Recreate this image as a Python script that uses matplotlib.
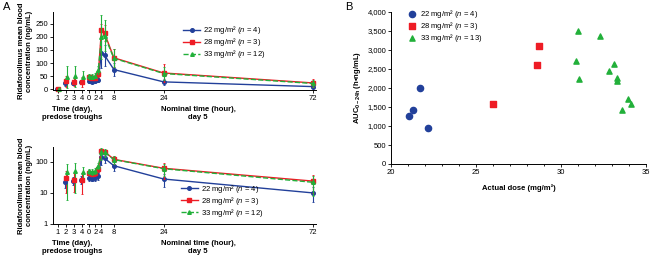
import numpy as np
import matplotlib.pyplot as plt
import matplotlib.ticker as mticker

plt.rcParams['font.family'] = ['Liberation Sans', 'DejaVu Sans']
plt.rcParams['mathtext.fontset'] = 'custom'
plt.rcParams['mathtext.rm'] = 'Liberation Sans'
plt.rcParams['mathtext.it'] = 'Liberation Sans:italic'
plt.rcParams['font.size'] = 5.5

# ---- panel A data ----
days = [1, 2, 3, 4]
hours = [0, 1, 2, 3, 4, 5, 8, 24, 72]

labels_a = ['22 mg/m² ($\\it{n}$ = 4)', '28 mg/m² ($\\it{n}$ = 3)', '33 mg/m² ($\\it{n}$ = 12)']
labels_b = ['22 mg/m² ($\\it{n}$ = 4)', '28 mg/m² ($\\it{n}$ = 3)', '33 mg/m² ($\\it{n}$ = 13)']

day_mean = {
    '22': [0, 22, 25, 27],
    '28': [0, 30, 27, 27],
    '33': [0, 47, 50, 48],
}
day_sd = {
    '22': [0, 8, 7, 8],
    '28': [0, 20, 16, 18],
    '33': [0, 41, 40, 22],
}
hour_mean = {
    '22': [30, 28, 30, 35, 140, 130, 75, 28, 10],
    '28': [45, 42, 44, 60, 226, 214, 120, 62, 24],
    '33': [50, 48, 52, 75, 200, 205, 118, 60, 22],
}
hour_sd = {
    '22': [5, 4, 5, 8, 58, 40, 25, 12, 5],
    '28': [8, 7, 8, 12, 25, 30, 35, 33, 14],
    '33': [10, 9, 10, 15, 85, 60, 35, 25, 14],
}

# ---- panel B data ----
dose_22 = [21.08, 21.31, 21.70, 22.20]
auc_22 = [1260, 1420, 2000, 950]
dose_28 = [26.02, 28.60, 28.72]
auc_28 = [1590, 2600, 3110]
dose_33 = [31.02, 32.29, 30.88, 33.10, 32.80, 31.08, 33.31, 33.31, 33.92, 34.12, 33.60]
auc_33 = [3490, 3360, 2720, 2640, 2450, 2250, 2270, 2190, 1715, 1585, 1410]

blue = '#22409a'
red = '#ee1c25'
green = '#22b03a'
keys = ['22', '28', '33']
colors = [blue, red, green]
markers = ['o', 's', '^']
styles = ['-', '-', '--']
dodge = [-0.13, 0.0, 0.13]

fig = plt.figure(figsize=(6.5, 2.58), dpi=100)


def px_axes(l, t, r, b):
    return fig.add_axes([l / 650, 1 - b / 258, (r - l) / 650, (b - t) / 258])


def fx(x):
    return x / 650


def fy(y):
    return 1 - y / 258


def style_ax(ax):
    for s in ['top', 'right']:
        ax.spines[s].set_visible(False)
    ax.tick_params(direction='out', length=2, width=0.6, pad=1.5, labelsize=5.5)
    for s in ax.spines.values():
        s.set_linewidth(0.7)


def draw_pk(top, bottom, log, leg_xy):
    axd = px_axes(53, top, 84, bottom)
    axh = px_axes(87, top, 316, bottom)
    for k, c, m, ls, dx, lab in zip(keys, colors, markers, styles, dodge, labels_a):
        dm = np.array(day_mean[k], float)
        hm = np.array(hour_mean[k], float)
        dsd = np.array(day_sd[k], float)
        hsd = np.array(hour_sd[k], float)
        if log:
            dm = np.where(dm > 0, dm, np.nan)
            dlo = np.minimum(dsd, dm * 0.999)
            hlo = np.minimum(hsd, hm * 0.999)
        else:
            dlo, hlo = dsd, hsd
        axd.errorbar(np.array(days) + dx, dm, yerr=[dlo, dsd], fmt=m, color=c,
                     ms=2.6, elinewidth=0.8, capsize=1.0, capthick=0.6, clip_on=False)
        axh.errorbar(hours, hm, yerr=[hlo, hsd], fmt='none', ecolor=c,
                     elinewidth=0.8, capsize=1.0, capthick=0.6, clip_on=False)
        axh.plot(hours, hm, marker=m, ls=ls, color=c, lw=1.0, ms=2.6,
                 label=lab, clip_on=False)
    axd.set_xlim(0.375, 4.25)
    axd.set_xticks(days)
    axh.set_xlim(-0.64, 73)
    axh.set_xticks([0, 2, 4, 8, 24, 72])
    if log:
        axd.set_yscale('log')
        axh.set_yscale('log')
        axd.set_ylim(1, 300)
        axh.set_ylim(1, 300)
        axd.yaxis.set_major_locator(mticker.FixedLocator([1, 10, 100]))
        axd.yaxis.set_major_formatter(mticker.FixedFormatter(['1', '10', '100']))
        axd.yaxis.set_minor_locator(mticker.NullLocator())
        axh.yaxis.set_minor_locator(mticker.NullLocator())
    else:
        axd.set_ylim(-3, 295)
        axh.set_ylim(-3, 295)
        axd.set_yticks([0, 50, 100, 150, 200, 250])
    style_ax(axd)
    style_ax(axh)
    axh.spines['left'].set_visible(False)
    axh.tick_params(axis='y', left=False, labelleft=False)
    axd.set_ylabel('Ridaforolimus mean blood\nconcentration (ng/mL)', fontsize=5.5,
                   fontweight='bold', labelpad=2, linespacing=1.1)
    fig.text(fx(72), fy(bottom + 16), 'Time (day),\npredose troughs', fontsize=5.5,
             fontweight='bold', ha='center', va='top', linespacing=1.15)
    fig.text(fx(198), fy(bottom + 16), 'Nominal time (hour),\nday 5', fontsize=5.5,
             fontweight='bold', ha='center', va='top', linespacing=1.15)
    axh.legend(loc='lower left', bbox_to_anchor=leg_xy, frameon=False,
               fontsize=5.5, handlelength=2.2, handletextpad=0.4,
               labelspacing=0.0, borderpad=0.0, borderaxespad=0.0)
    return axd, axh


draw_pk(12, 90, False, (0.42, 0.38))
draw_pk(147, 224, True, (0.41, 0.07))

# ---- panel B ----
axb = px_axes(391, 12, 646, 164)
axb.scatter(dose_22, auc_22, s=20, marker='o', color=blue, label=labels_b[0], zorder=3)
axb.scatter(dose_28, auc_28, s=14, marker='s', color=red, label=labels_b[1], zorder=3)
axb.scatter(dose_33, auc_33, s=14, marker='^', color=green, label=labels_b[2], zorder=3)
axb.set_xlim(20, 35)
axb.set_ylim(0, 4000)
axb.set_xticks([20, 25, 30, 35])
axb.xaxis.set_minor_locator(mticker.MultipleLocator(1))
axb.set_yticks(np.arange(0, 4001, 500))
axb.yaxis.set_major_formatter(mticker.StrMethodFormatter('{x:,.0f}'))
style_ax(axb)
axb.tick_params(which='minor', direction='out', length=1.5, width=0.6)
axb.set_xlabel('Actual dose (mg/m²)', fontsize=5.5, fontweight='bold', labelpad=6)
axb.set_ylabel('AUC$_{\\mathregular{0-24h}}$ (h\u2022ng/mL)', fontsize=5.5,
               fontweight='bold', labelpad=3)
axb.legend(loc='upper left', bbox_to_anchor=(0.03, 1.06), frameon=False, fontsize=5.5,
           handletextpad=0.1, labelspacing=0.0, borderpad=0.2, scatterpoints=1)

fig.text(3 / 650, 1 - 2 / 258, 'A', fontsize=8, va='top', ha='left')
fig.text(345 / 650, 1 - 2 / 258, 'B', fontsize=8, va='top', ha='left')

fig.savefig('out.png', dpi=100)
